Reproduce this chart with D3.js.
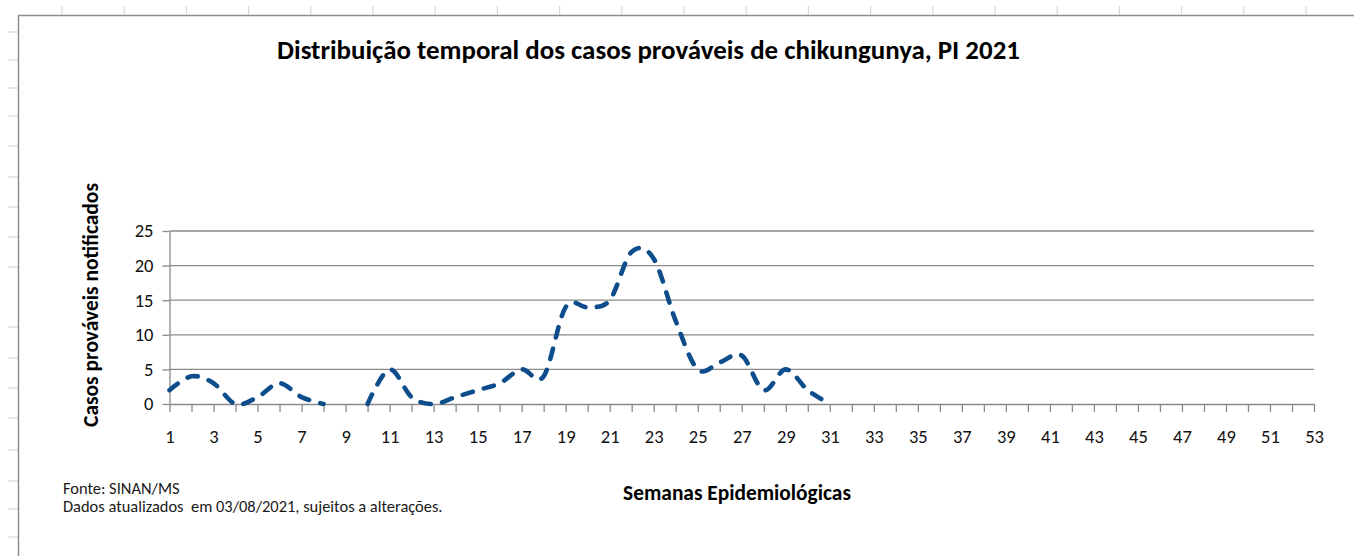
<!DOCTYPE html>
<html>
<head>
<meta charset="utf-8">
<script src="https://cdn.jsdelivr.net/npm/d3@7"></script>
<style>
  body { margin: 0; background: #fff; }
  svg { display: block; font-family: Carlito, Calibri, Lato, "Open Sans", sans-serif; }
  .grid line { stroke: #8a8a8a; stroke-width: 1.3; }
  .axis path, .axis line { stroke: #8a8a8a; stroke-width: 1.3; }
  .axis text { fill: #111; font-size: 18.5px; font-family: Carlito, Calibri, Lato, "Open Sans", sans-serif; }
</style>
</head>
<body>
<script>
// epidemiological weeks and probable cases (week 9 and 32-53 have no value)
var weeks = d3.range(1, 54);
var cases = [2, 4, 3, 0, 1, 3, 1, 0, null, 0,
             5, 1, 0, 1, 2, 3, 5, 4, 14, 14,
             15, 22, 21, 12, 5, 6, 7, 2, 5, 2,
             0];
var yTicks = [0, 5, 10, 15, 20, 25];

var titleText = "Distribuição temporal dos casos prováveis de chikungunya, PI 2021";
var yTitle = "Casos prováveis  notificados";
var xTitle = "Semanas Epidemiológicas";
var notes = ["Fonte: SINAN/MS", "Dados atualizados  em 03/08/2021, sujeitos a alterações."];

// spreadsheet gridline stubs around the chart object
var rowLines = [32, 60, 88, 116, 146, 177, 207, 237, 267, 327, 358, 388, 418, 450, 481, 509, 537];

var width = 1354, height = 556;

var svg = d3.select("body")
    .append("svg")
    .attr("width", width)
    .attr("height", height);

//spreadsheet background marks
svg.selectAll(".col-tick")
    .data(d3.range(62, width, 62.2))
    .enter()
    .append("line")
    .attr("x1", function(d){ return d; })
    .attr("x2", function(d){ return d; })
    .attr("y1", 6)
    .attr("y2", 15)
    .attr("stroke", "#d3dae6")
    .attr("stroke-width", 1.2);

svg.selectAll(".row-tick")
    .data(rowLines)
    .enter()
    .append("line")
    .attr("x1", 8)
    .attr("x2", 18)
    .attr("y1", function(d){ return d; })
    .attr("y2", function(d){ return d; })
    .attr("stroke", "#d3dae6")
    .attr("stroke-width", 1.2);

//chart object border
svg.append("path")
    .attr("d", "M18.5," + height + "V15.5H" + width)
    .attr("fill", "none")
    .attr("stroke", "#8e8e8e")
    .attr("stroke-width", 1.5);

//scales
var x = d3.scaleLinear().domain([1, 53]).range([169.5, 1314]);
var y = d3.scaleLinear().domain([0, 25]).range([404, 231]);

//horizontal gridlines
svg.append("g")
    .attr("class", "grid")
    .selectAll("line")
    .data(yTicks.slice(1))
    .enter()
    .append("line")
    .attr("x1", x(1))
    .attr("x2", x(53))
    .attr("y1", function(d){ return y(d); })
    .attr("y2", function(d){ return y(d); });

//y axis
svg.append("g")
    .attr("class", "axis")
    .attr("transform", "translate(" + x(1) + ",0)")
    .call(d3.axisLeft(y).tickValues(yTicks).tickSize(7).tickPadding(9).tickSizeOuter(0));

//x axis, a tick on every week, a label on odd weeks
svg.append("g")
    .attr("class", "axis")
    .attr("transform", "translate(0," + y(0) + ")")
    .call(d3.axisBottom(x)
        .tickValues(weeks)
        .tickSize(8)
        .tickPadding(18)
        .tickSizeOuter(0)
        .tickFormat(function(d){ return d % 2 ? d : ""; }));

//smoothed dashed series
var line = d3.line()
    .defined(function(d){ return d != null; })
    .x(function(d, i){ return x(weeks[i]); })
    .y(function(d){ return y(d); })
    .curve(d3.curveCatmullRom.alpha(0));

svg.append("path")
    .datum(cases)
    .attr("d", line)
    .attr("fill", "none")
    .attr("stroke", "#0e4d8c")
    .attr("stroke-width", 4.6)
    .attr("stroke-linecap", "round")
    .attr("stroke-dasharray", "10.5,11.5");

//fit a text element to a target width by adjusting its font size
function fitWidth(sel, target){
    var size = parseFloat(sel.style("font-size"));
    var w = sel.node().getComputedTextLength();
    sel.style("font-size", (size * target / w).toFixed(2) + "px");
}

//titles
var title = svg.append("text")
    .attr("x", 648.5)
    .attr("y", 59)
    .attr("text-anchor", "middle")
    .style("font-weight", "bold")
    .style("font-size", "22px")
    .text(titleText);
fitWidth(title, 743);

var yt = svg.append("text")
    .attr("transform", "translate(98,305) rotate(-90)")
    .attr("text-anchor", "middle")
    .style("font-weight", "bold")
    .style("font-size", "18px")
    .text(yTitle);
fitWidth(yt, 244);

var xt = svg.append("text")
    .attr("x", 737)
    .attr("y", 500)
    .attr("text-anchor", "middle")
    .style("font-weight", "bold")
    .style("font-size", "17px")
    .text(xTitle);
fitWidth(xt, 228);

//source notes
var foot = svg.selectAll(".note")
    .data(notes)
    .enter()
    .append("text")
    .attr("class", "note")
    .attr("x", 63)
    .attr("y", function(d, i){ return 494 + i * 18; })
    .style("font-size", "13px")
    .style("fill", "#1a1a1a")
    .style("white-space", "pre")
    .text(function(d){ return d; });
fitWidth(foot.filter(function(d, i){ return i == 1; }), 380);
foot.filter(function(d, i){ return i == 0; })
    .style("font-size", foot.filter(function(d, i){ return i == 1; }).style("font-size"));
</script>
</body>
</html>
